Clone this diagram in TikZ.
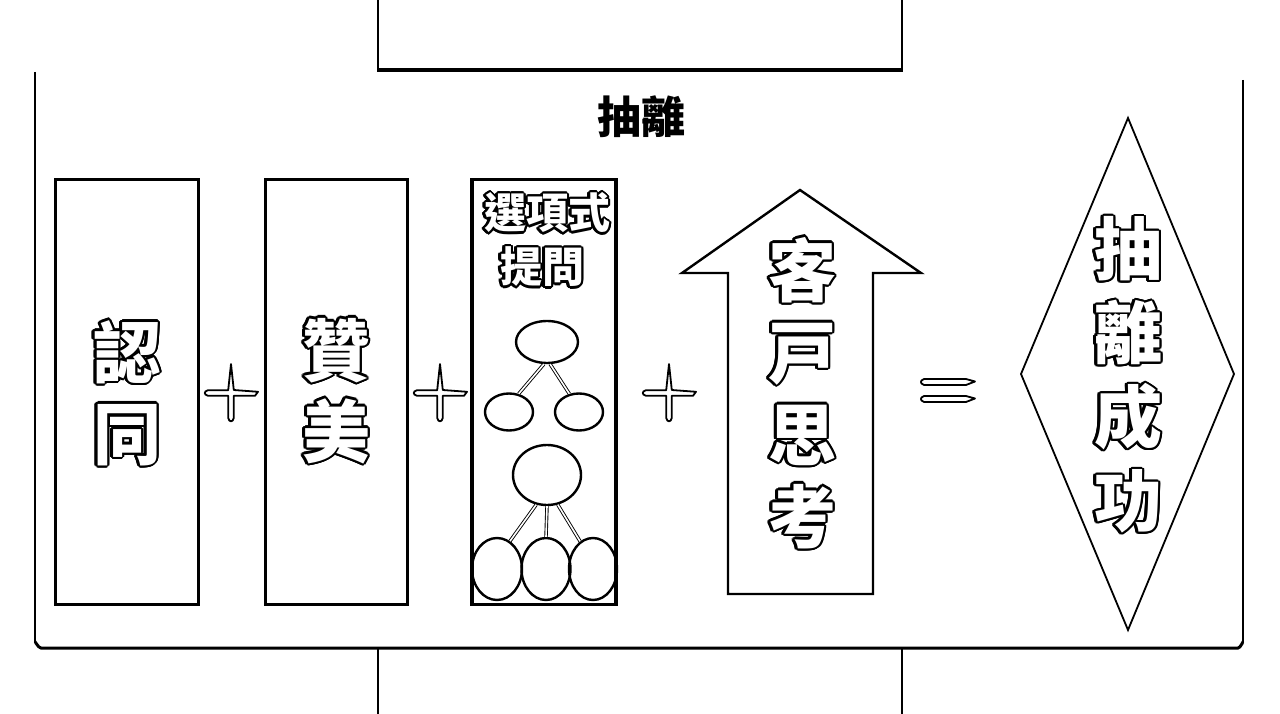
\documentclass[tikz,border=0pt]{standalone}
\usepackage{fontspec}
\newfontfamily\cjk{Noto Sans CJK TC}
\usepackage{contour}
\contourlength{2.2pt}
\usetikzlibrary{shapes.geometric}
\newcommand\outl[1]{\contour{black}{#1}}
\tikzset{
  panel/.style={draw, line width=3pt, minimum width=143pt, minimum height=425pt, inner sep=0pt},
  bub/.style={ellipse, draw, line width=2.4pt, inner sep=0pt},
  dlink/.style={draw=black, double=white, double distance=1.6pt, line width=0.9pt},
  bigtxt/.style={text=white, font=\cjk\bfseries\fontsize{68}{81}\selectfont, align=center, inner sep=0pt},
  smalltxt/.style={text=white, font=\cjk\bfseries\fontsize{42}{54}\selectfont, align=center, inner sep=0pt},
  plusmark/.pic={
    \filldraw[fill=white, draw=black, line width=1.8pt, line join=round]
      (0,-29) -- (2.8,-3) -- (27,-1.2) -- (24,2.8) -- (2.8,2.8) -- (2.8,25) -- (1.6,27.6) -- (0,28.3)
      -- (-1.6,27.6) -- (-2.8,25) -- (-2.8,2.8) -- (-23,2.8) -- (-25.5,1.6) -- (-26.2,0)
      -- (-25.5,-1.6) -- (-23,-2.8) -- (-2.8,-2.8) -- cycle;
  },
  eqbar/.pic={
    \filldraw[fill=white, draw=black, line width=1.8pt, line join=round]
      (-24,-3) -- (18,-3) -- (27,-0.5) -- (18,3) -- (-24,3) -- (-26.5,1.5) -- (-27,0) -- (-26.5,-1.5) -- cycle;
  }
}
\begin{document}
\begin{tikzpicture}[x=1pt, y=-1pt]
\useasboundingbox[fill=white] (0,0) rectangle (1280,714);

% top box
\draw[line width=1.5pt] (378,0) -- (378,70);
\draw[line width=1.5pt] (902,0) -- (902,70);
\draw[line width=3.2pt] (377,70) -- (903,70);

% outer frame
\draw[line width=1.5pt] (35,72) -- (35,643);
\draw[line width=1.5pt] (1243,80) -- (1243,643);
\draw[line width=3pt] (35,643) to[out=90,in=180] (41,648) -- (1238,648) to[out=0,in=90] (1243,643);

% bottom box
\draw[line width=1.5pt] (378,648) -- (378,714);
\draw[line width=1.5pt] (902,648) -- (902,714);

% title
\node[font=\cjk\bfseries\fontsize{44}{48}\selectfont, inner sep=0pt] (title) at (641,117) {抽離};

% panels
\node[panel] (p1) at (126.5,392) {};
\node[panel, minimum width=142pt] (p2) at (336,392) {};
\node[panel, line width=3.8pt, minimum width=144pt] (p3) at (544,392) {};

\node[bigtxt] (t1) at (127,394) {\outl{認}\\\outl{同}};
\node[bigtxt] (t2) at (336,392) {\outl{贊}\\\outl{美}};

% plus signs
\pic at (231,393) {plusmark};
\pic at (440,393) {plusmark};
\pic at (669,393) {plusmark};

% option question panel
\node[smalltxt] (s1) at (547,214) {\outl{選項式}};
\node[smalltxt] (s2) at (542,268) {\outl{提問}};

\node[bub, minimum width=62pt, minimum height=42pt] (ct) at (547,342) {};
\node[bub, minimum width=48pt, minimum height=37pt] (cl) at (509,412) {};
\node[bub, minimum width=48pt, minimum height=37pt] (cr) at (579,412) {};
\draw[dlink] (ct.262) -- (cl.62);
\draw[dlink] (ct.278) -- (cr.118);

\node[bub, minimum width=68pt, minimum height=60pt] (cb) at (547,475) {};
\node[bub, minimum width=50pt, minimum height=62pt] (b1) at (497,569) {};
\node[bub, minimum width=49pt, minimum height=62pt] (b2) at (546,569) {};
\node[bub, minimum width=48pt, minimum height=62pt] (b3) at (593,569) {};
\draw[dlink] (cb.250) -- (b1.65);
\draw[dlink] (cb.south) -- (b2.north);
\draw[dlink] (cb.290) -- (b3.115);

% arrow
\draw[line width=2.4pt, line join=miter] (800,190) -- (921,273) -- (873,273) -- (873,594) -- (728,594) -- (728,273) -- (682,273) -- cycle;
\node[bigtxt, font=\cjk\bfseries\fontsize{68}{82}\selectfont] (t3) at (802,394) {\outl{客}\\\outl{戸}\\\outl{思}\\\outl{考}};

% equals
\pic at (948,382) {eqbar};
\pic at (948,399) {eqbar};

% diamond
\draw[line width=1.8pt] (1128,118) -- (1234,374) -- (1128,630) -- (1021,374) -- cycle;
\node[bigtxt, font=\cjk\bfseries\fontsize{68}{84}\selectfont] (t4) at (1128,376) {\outl{抽}\\\outl{離}\\\outl{成}\\\outl{功}};
\end{tikzpicture}
\end{document}
